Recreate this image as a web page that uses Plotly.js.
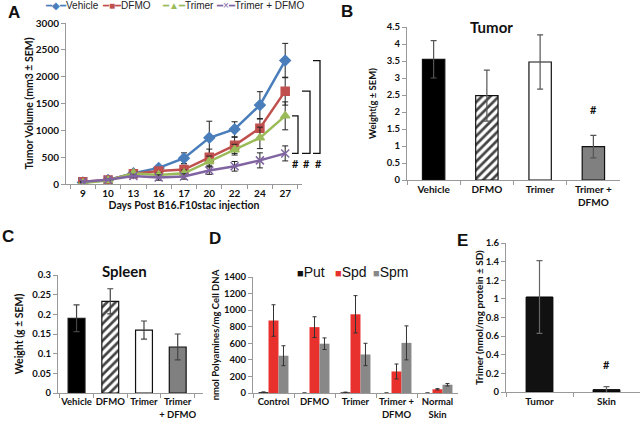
<!DOCTYPE html>
<html><head><meta charset="utf-8">
<script src="https://cdn.plot.ly/plotly-3.0.1.min.js"></script>
<style>html,body{margin:0;padding:0;background:#fff}#chart{width:640px;height:429px}</style>
</head><body><div id="chart"></div>
<script>
// Panel A: tumor volume over time
const daysA = ['9','10','13','16','17','20','22','24','27'];
const vehicleA = [30, 75, 200, 300, 480, 860, 1020, 1470, 2300];
const vehicleErrA = [10, 15, 30, 40, 100, 310, 140, 250, 320];
const dfmoA = [40, 75, 190, 240, 270, 500, 720, 1040, 1730];
const dfmoErrA = [10, 15, 30, 40, 80, 150, 150, 170, 260];
const trimerA = [20, 65, 200, 170, 200, 420, 640, 860, 1270];
const trimerErrA = [10, 15, 30, 40, 60, 100, 100, 200, 260];
const comboA = [40, 80, 150, 120, 140, 250, 330, 440, 570];
const comboErrA = [10, 15, 30, 50, 50, 70, 90, 140, 140];
const seriesNamesA = ['Vehicle', 'DFMO', 'Trimer', 'Trimer + DFMO'];

// Panel B: tumor weight
const groupsB = ['Vehicle', 'DFMO', 'Trimer', 'Trimer +<br>DFMO'];
const tumorWt = [3.55, 2.48, 3.47, 0.98];
const tumorErr = [0.55, 0.75, 0.8, 0.33];

// Panel C: spleen weight
const groupsC = ['Vehicle', 'DFMO', 'Trimer', 'Trimer<br>+ DFMO'];
const spleenWt = [0.19, 0.233, 0.16, 0.117];
const spleenErr = [0.034, 0.032, 0.023, 0.033];

// Panel D: polyamines
const groupsD = ['Control', 'DFMO', 'Trimer', 'Trimer +<br>DFMO', 'Normal<br>Skin'];
const seriesNamesD = ['Put', 'Spd', 'Spm'];
const putD = [10, 0, 8, 0, 0];
const putErr = [3, 0, 3, 0, 0];
const spdD = [875, 795, 950, 260, 45];
const spdErr = [190, 125, 225, 90, 8];
const spmD = [450, 595, 465, 605, 100];
const spmErr = [120, 70, 135, 205, 15];

// Panel E: trimer content
const tissuesE = ['Tumor', 'Skin'];
const trimerE = [1.02, 0.025];
const trimerEErr = [0.39, 0.033];

const FONT = 'Lato, "Open Sans", Arial, sans-serif';
const SYMFONT = '"DejaVu Sans", sans-serif';
const W = 640, H = 429;
const px = v => v / W, py = v => 1 - v / H;
const colorsA = ['#4a7ebb', '#c0504d', '#9bbb59', '#8064a2'];
const symbolsA = ['diamond', 'square', 'triangle-up', 'x-thin-open'];
const glyphsA = ['◆', '■', '▲', '×'];
const colorsD = ['#111111', '#e8302c', '#888888'];

function lineTrace(i, y, err) {
  return {
    type: 'scatter', mode: 'lines+markers', name: seriesNamesA[i], x: daysA, y: y,
    xaxis: 'x', yaxis: 'y', showlegend: false,
    line: {color: colorsA[i], width: 2.5},
    marker: {color: colorsA[i], symbol: symbolsA[i], size: 8, line: {color: colorsA[i], width: 1.5}},
    error_y: {type: 'data', array: err, visible: true, color: '#222', thickness: 1, width: 3}
  };
}

const hatchMarker = {
  color: ['#000000', '#ffffff', '#ffffff', '#808080'], line: {color: '#111', width: 1.2},
  pattern: {shape: ['', '/', '', ''], fgcolor: '#000000', fgopacity: 1, size: 6, solidity: 0.45, fillmode: 'overlay'}
};

const traces = [
  lineTrace(0, vehicleA, vehicleErrA),
  lineTrace(1, dfmoA, dfmoErrA),
  lineTrace(2, trimerA, trimerErrA),
  lineTrace(3, comboA, comboErrA),
  {
    type: 'bar', x: groupsB, y: tumorWt, xaxis: 'x2', yaxis: 'y2', showlegend: false, width: 0.42,
    marker: hatchMarker,
    error_y: {type: 'data', array: tumorErr, visible: true, color: '#555', thickness: 1.2, width: 3}
  },
  {
    type: 'bar', x: groupsC, y: spleenWt, xaxis: 'x3', yaxis: 'y3', showlegend: false, width: 0.5,
    marker: hatchMarker,
    error_y: {type: 'data', array: spleenErr, visible: true, color: '#444', thickness: 1.2, width: 3}
  },
  {type: 'bar', name: seriesNamesD[0], x: groupsD, y: putD, xaxis: 'x4', yaxis: 'y4', showlegend: false,
    marker: {color: colorsD[0]}, error_y: {type: 'data', array: putErr, visible: true, color: '#333', thickness: 1, width: 2}},
  {type: 'bar', name: seriesNamesD[1], x: groupsD, y: spdD, xaxis: 'x4', yaxis: 'y4', showlegend: false,
    marker: {color: colorsD[1]}, error_y: {type: 'data', array: spdErr, visible: true, color: '#333', thickness: 1, width: 2}},
  {type: 'bar', name: seriesNamesD[2], x: groupsD, y: spmD, xaxis: 'x4', yaxis: 'y4', showlegend: false,
    marker: {color: colorsD[2]}, error_y: {type: 'data', array: spmErr, visible: true, color: '#333', thickness: 1, width: 2}},
  {
    type: 'bar', x: tissuesE, y: trimerE, xaxis: 'x5', yaxis: 'y5', showlegend: false, width: 0.4,
    marker: {color: '#111111', line: {color: '#000', width: 1}},
    error_y: {type: 'data', array: trimerEErr, visible: true, color: '#666', thickness: 1.2, width: 3}
  }
];

function xax(domain, anchor, size, extra) {
  return Object.assign({
    domain: domain, anchor: anchor, type: 'category', showline: true, linecolor: '#999', linewidth: 1,
    ticks: 'outside', tickson: 'boundaries', ticklen: 4, tickcolor: '#999', showgrid: false, zeroline: false,
    tickangle: 0, automargin: false,
    tickfont: {family: FONT, size: size, color: '#111', weight: 'bold'}, fixedrange: true
  }, extra || {});
}
function yax(domain, anchor, range, dtick, title, tsize, standoff, tickSize, extra) {
  return Object.assign({
    domain: domain, anchor: anchor, range: range, dtick: dtick, showline: true, linecolor: '#999', linewidth: 1,
    ticks: 'outside', ticklen: 4, tickcolor: '#999', showgrid: false, zeroline: false, automargin: false,
    tickfont: {family: FONT, size: tickSize, color: '#111', weight: 'bold'},
    title: {text: title, font: {family: FONT, size: tsize, color: '#111', weight: 'bold'}, standoff: standoff}
  }, extra || {});
}

const bracketX = [[292, 298], [302, 310], [313, 320]];
const bracketTops = [trimerA[8], dfmoA[8], vehicleA[8]];
const shapes = bracketTops.map((top, i) => ({
  type: 'path', xref: 'paper', yref: 'y',
  path: `M ${px(bracketX[i][0])},${top} L ${px(bracketX[i][1])},${top} L ${px(bracketX[i][1])},${comboA[8]} L ${px(bracketX[i][0])},${comboA[8]}`,
  line: {color: '#111', width: 1.3}
}));

function letter(t, x, y) {
  return {text: t, x: px(x), y: py(y), xref: 'paper', yref: 'paper', showarrow: false,
    xanchor: 'center', yanchor: 'middle',
    font: {family: 'Liberation Sans, Arial, sans-serif', size: 17, color: '#111', weight: 'bold'}};
}
function hash(x, y, xref, yref, yshift) {
  return {text: '#', x: x, y: y, xref: xref, yref: yref, showarrow: false, yshift: yshift || 0,
    xanchor: 'center', yanchor: 'middle',
    font: {family: FONT, size: 11, color: '#111', weight: 'bold'}};
}

// legend keys (text) for panel A and panel D
const legendAX = [43, 100, 160, 214];
const legendA = seriesNamesA.map((n, i) => ({
  text: `<span style="color:${colorsA[i]};font-family:${SYMFONT};font-size:10px">━${glyphsA[i]}━</span>${n}`,
  x: px(legendAX[i]), y: py(5), xref: 'paper', yref: 'paper', showarrow: false,
  xanchor: 'left', yanchor: 'middle',
  font: {family: 'Liberation Sans, Arial, sans-serif', size: 10, color: '#222'}
}));
const legendDX = [295, 333, 371];
const legendD = seriesNamesD.map((n, i) => ({
  text: `<span style="color:${colorsD[i]};font-size:11px">■</span>${n}`,
  x: px(legendDX[i]), y: py(272), xref: 'paper', yref: 'paper', showarrow: false,
  xanchor: 'left', yanchor: 'middle',
  font: {family: 'Liberation Sans, Arial, sans-serif', size: 14, color: '#111'}
}));

const annotations = [
  letter('A', 14, 12), letter('B', 347, 11), letter('C', 8, 237), letter('D', 215, 238), letter('E', 462, 240),
  {text: 'Tumor', x: px(491), y: py(27), xref: 'paper', yref: 'paper', showarrow: false,
    xanchor: 'center', yanchor: 'middle', font: {family: FONT, size: 15, color: '#111', weight: 'bold'}},
  {text: 'Spleen', x: px(124), y: py(271), xref: 'paper', yref: 'paper', showarrow: false,
    xanchor: 'center', yanchor: 'middle', font: {family: FONT, size: 15, color: '#111', weight: 'bold'}},
  hash(px(295), comboA[8], 'paper', 'y', -10),
  hash(px(306), comboA[8], 'paper', 'y', -10),
  hash(px(318), comboA[8], 'paper', 'y', -10),
  hash(groupsB[3], tumorWt[3] + tumorErr[3], 'x2', 'y2', 26),
  hash(tissuesE[1], trimerE[1] + trimerEErr[1], 'x5', 'y5', 22)
].concat(legendA, legendD);

const layout = {
  width: W, height: H, margin: {l: 0, r: 0, t: 0, b: 0, autoexpand: false},
  paper_bgcolor: '#fff', plot_bgcolor: '#fff',
  barmode: 'group', bargap: 0.27, bargroupgap: 0, showlegend: false,
  font: {family: FONT, color: '#111'},
  xaxis: xax([px(66), px(302)], 'y', 10, {title: {text: 'Days Post B16.F10stac injection',
    font: {family: FONT, size: 10.5, color: '#111', weight: 'bold'}, standoff: 0}}),
  yaxis: yax([py(184), py(23)], 'x', [0, 3000], 500, 'Tumor Volume (mm3 ± SEM)', 10.5, 0, 10),
  xaxis2: xax([px(407), px(620)], 'y2', 10),
  yaxis2: yax([py(180), py(27)], 'x2', [0, 4.5], 0.5, 'Weight(g ± SEM)', 9.5, 8, 9.5),
  xaxis3: xax([px(58), px(203)], 'y3', 9.5, {range: [-0.55, 3.75]}),
  yaxis3: yax([py(393), py(275)], 'x3', [0, 0.3], 0.05, 'Weight (g ± SEM)', 10.5, 6, 9.5),
  xaxis4: xax([px(253), px(458)], 'y4', 9.5),
  yaxis4: yax([py(393), py(277)], 'x4', [0, 1400], 200, 'nmol Polyamines/mg Cell DNA', 9.5, 2, 9.5),
  xaxis5: xax([px(506), px(640)], 'y5', 10),
  yaxis5: yax([py(392), py(243)], 'x5', [0, 1.6], 0.2, 'Trimer (nmol/mg protein ± SD)', 10, 0, 9.5),
  shapes: shapes,
  annotations: annotations
};

Plotly.newPlot('chart', traces, layout, {displayModeBar: false, staticPlot: true});
</script></body></html>
